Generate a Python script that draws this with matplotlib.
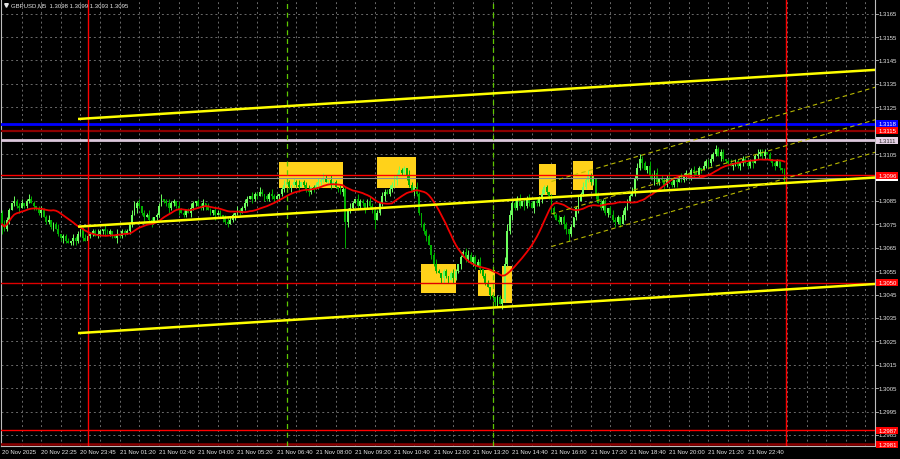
import numpy as np
import pandas as pd
import matplotlib
matplotlib.use("Agg")
import matplotlib.pyplot as plt
from matplotlib.patches import Rectangle
from matplotlib.transforms import blended_transform_factory

# ---------------------------------------------------------------- data
PIP = 0.0001
BASE = 1.3000

# GBPUSD M5 closing prices, pips above 1.3000, one value per bar
closes_pips = [
    75, 73, 77, 81, 84, 85, 83, 82, 84, 83, 85, 86, 84, 83, 82, 80, 81,
    78, 76, 77, 74, 75, 73, 71, 69, 70, 68, 67, 68, 69, 68, 71, 73, 69, 68, 70,
    71, 72, 70, 71, 72, 73, 72, 71, 72, 70, 69, 71, 70, 72, 71, 72,
    75, 79, 82, 84, 83, 80, 78, 79, 77, 76, 78, 79,
    83, 86, 85, 84, 82, 84, 85, 83, 81, 80, 79, 81, 80, 82,
    84, 85, 83, 82, 84, 83, 81, 80, 81, 79, 80, 79,
    78, 76, 75, 77, 79, 80, 81, 80, 82,
    84, 86, 87, 86, 88, 87, 89, 88, 87, 86, 88, 87, 86, 87, 88,
    90, 92, 93, 91, 92, 93, 92, 91, 93, 92, 90, 89, 91, 90, 92,
    93, 94, 95, 93, 94, 92, 93, 91, 90, 89, 90, 76, 81,
    82, 84, 86, 83, 85, 84, 82, 85, 83, 81, 77, 80,
    84, 87, 89, 88, 90, 92, 94, 96, 98, 97, 99, 96, 92, 89, 91, 88,
    80, 75, 72, 70, 66, 62, 58, 55, 54, 52, 55, 53, 51, 54, 52, 55,
    58, 61, 63, 60, 62, 59, 61, 57, 59, 56, 53, 50, 48, 45, 44,
    42, 44, 41, 43, 58, 72, 79, 84, 82, 86, 83,
    85, 83, 86, 84, 82, 85, 84, 86, 88, 91, 89, 87,
    82, 79, 77, 76, 78, 75, 73, 71, 74, 78, 82, 85, 88,
    91, 94, 96, 93, 95, 88, 84, 82, 85, 80, 82, 79, 77, 76, 78, 75, 79,
    82, 85, 87, 89, 95, 99, 103, 101, 98, 100,
    96, 94, 97, 93, 95, 94, 92, 95, 93, 92, 94, 93, 95, 94, 96,
    97, 95, 98, 97, 96, 99, 98, 100, 102, 101, 103,
    105, 107, 104, 106, 103, 102, 101,
    100, 101, 102, 100, 101, 103, 101, 100, 102, 101,
    104, 105, 106, 104, 106, 105, 103, 101, 100, 102, 99, 98, 95,
]
first_open_pips = 80

# wick lengths in pips above / below each candle body (hex digits)
upper_wicks = (
    "1211021120" "1211012112" "0112011102" "1101210112" "1021101201"
    "1102312011" "2101120121" "1021101210" "1120110211" "0121102112"
    "1021121011" "2110121102" "1201120112" "1210211021" "1121021101"
    "2111021121" "2121102112" "1011101210" "1101210112" "2101120110"
    "1011033212" "1201121011" "2110111201" "1010121212" "1101211012"
    "1102111212" "2110211201" "1121011211" "0121102112" "1211101201"
    "1011210121" "1101011001"
)
lower_wicks = (
    "4112011201" "1102112011" "1201121012" "2111021101" "1120110211"
    "1011021120" "1201101121" "1120110211" "0112011201" "2110121101"
    "1021101211" "1102110121" "1201121102" "1101210112" "b211021120"
    "1140112011" "1201121021" "1112021102" "2110211201" "1121021102"
    "1220211121" "1102110211" "2011210112" "2310120111" "1120111201"
    "2110211021" "1201102111" "2101120112" "1120110121" "1102111021"
    "1210112011" "1101120112"
)

# axis time labels, one every 16 bars
time_labels = [
    "20 Nov 2025", "20 Nov 22:25", "20 Nov 23:45", "21 Nov 01:20",
    "21 Nov 02:40", "21 Nov 04:00", "21 Nov 05:20", "21 Nov 06:40",
    "21 Nov 08:00", "21 Nov 09:20", "21 Nov 10:40", "21 Nov 12:00",
    "21 Nov 13:20", "21 Nov 14:40", "21 Nov 16:00", "21 Nov 17:20",
    "21 Nov 18:40", "21 Nov 20:00", "21 Nov 21:20", "21 Nov 22:40",
]
price_ticks = [1.2985 + 0.0010 * k for k in range(19)]

# day separators and session markers (bar positions)
day_breaks = [35, 319.6]
session_marks = [116, 200]

# horizontal levels
level_prices = [1.3118, 1.3115, 1.3111, 1.3096, 1.3050, 1.2987, 1.2981]
bid_price = 1.3095

# signal zones: bar from, bar to, price low, price high
zone_bar0 = [112.9, 152.7, 170.8, 193.9, 203.8, 218.9, 232.9]
zone_bar1 = [139.0, 168.8, 185.0, 201.0, 207.9, 225.8, 240.8]
zone_low = [1.30904, 1.30904, 1.30455, 1.30445, 1.30414, 1.30876, 1.30897]
zone_high = [1.31015, 1.31036, 1.30579, 1.30555, 1.30570, 1.31007, 1.31022]

# rising channel (solid) and short-term channel (dashed): anchor bars and prices
trend_bars = [31, 356]
trend_start = [1.31200, 1.30740, 1.30285]
trend_end = [1.31410, 1.30950, 1.30495]
inner_bars = [224, 356]
inner_start = [1.30933, 1.30794, 1.30655]
inner_end = [1.31336, 1.31197, 1.31058]

# ---------------------------------------------------------------- styles
BG = "#000000"
GRID = "#6a6a6a"
TXT = "#e6e6e6"
BULL = "#6dff5e"
BEAR = "#00b000"
ZONE = "#ffd21a"
level_colors = ["#0000ff", "#8b0000", "#dcc8dc", "#ff0000", "#e00000", "#ff0000", "#8b0000"]
level_widths = [2.0, 1.6, 2.0, 1.0, 1.0, 1.0, 1.8]
box_colors = ["#0000ff", "#ff0000", "#e6d2e6", "#ff0000", "#ff0000", "#ff0000", "#ff0000"]
box_text = ["white", "white", "#303030", "white", "white", "white", "white"]
FONT = "Liberation Sans"
FS = 4.3

# ---------------------------------------------------------------- build OHLC
c = BASE + np.array(closes_pips, dtype=float) * PIP
n = len(c)
o = np.r_[BASE + first_open_pips * PIP, c[:-1]]
uw = np.array([int(ch, 16) for ch in upper_wicks], dtype=float)[:n] * PIP
lw_ = np.array([int(ch, 16) for ch in lower_wicks], dtype=float)[:n] * PIP
hi = np.maximum(o, c) + uw
lo = np.minimum(o, c) - lw_
ma = pd.Series(c).rolling(20, min_periods=1).mean().to_numpy()
idx = np.arange(n)

# ---------------------------------------------------------------- figure
fig = plt.figure(figsize=(9, 4.6), dpi=100, facecolor=BG)
ax = fig.add_axes([1 / 900, 13 / 460, 874 / 900, 447 / 460], facecolor=BG)
ax.set_xlim(-0.4, 355.9)
ax.set_ylim(1.298026, 1.317128)
ax.set_xticks([])
ax.set_yticks([])
for side in ("left", "right", "bottom"):
    ax.spines[side].set_color("#bdbdbd")
    ax.spines[side].set_linewidth(0.8)
ax.spines["top"].set_visible(False)

# dotted grid
for b in range(8, 356, 8):
    ax.axvline(b, color=GRID, lw=0.7, ls=(0, (2, 3)), zorder=1)
for p in price_ticks:
    ax.axhline(p, color=GRID, lw=0.7, ls=(0, (2, 3)), zorder=1)

# signal zones
for x0, x1, y0, y1 in zip(zone_bar0, zone_bar1, zone_low, zone_high):
    ax.add_patch(Rectangle((x0, y0), x1 - x0, y1 - y0, facecolor=ZONE,
                           edgecolor="none", zorder=2))

# candles
bull = c >= o
cols = np.where(bull, BULL, BEAR)
ax.vlines(idx, lo, hi, colors=cols, lw=0.7, zorder=4)
body_b = np.minimum(o, c)
body_h = np.maximum(np.abs(c - o), 0.00005)
ax.bar(idx, body_h, bottom=body_b, width=0.75, color=cols, linewidth=0, zorder=4)

# moving average
ax.plot(idx, ma, color="#f00000", lw=1.3, zorder=5)

# horizontal levels and bid line
ax.axhline(bid_price, color="#8c8c8c", lw=0.8, zorder=5)
for p, col, w in zip(level_prices, level_colors, level_widths):
    ax.axhline(p, color=col, lw=w, zorder=6)

# vertical markers
for b in day_breaks:
    ax.axvline(b, color="#ff0000", lw=1.0, zorder=6)
for b in session_marks:
    ax.axvline(b, color="#5fc800", lw=0.9, ls=(0, (4, 3)), zorder=6)

# channels
for s, e in zip(trend_start, trend_end):
    ax.plot(trend_bars, [s, e], color="#ffff00", lw=1.8, zorder=7,
            solid_capstyle="butt")
for s, e in zip(inner_start, inner_end):
    ax.plot(inner_bars, [s, e], color="#b8b800", lw=0.8, ls=(0, (4, 3)), zorder=7)

# price scale (labels hidden under a level box are skipped)
tr = blended_transform_factory(ax.transAxes, ax.transData)
covered = level_prices + [bid_price]
for p in price_ticks:
    ax.plot([1.0, 1.0035], [p, p], color="#bdbdbd", lw=0.6, transform=tr,
            clip_on=False)
    if min(abs(p - q) for q in covered) < 0.00015:
        continue
    ax.text(1.0046, p, f"{p:.4f}", transform=tr, color=TXT, fontsize=FS,
            family=FONT, va="center", ha="left", clip_on=False)

box_h = 0.00030


def price_box(p, face, tcol, z, label=True):
    ax.add_patch(Rectangle((1.0011, p - box_h / 2), 0.0252, box_h,
                           transform=tr, facecolor=face, edgecolor="none",
                           clip_on=False, zorder=z))
    if label:
        ax.text(1.0046, p, f"{p:.4f}", transform=tr, color=tcol, fontsize=FS,
                family=FONT, va="center", ha="left", clip_on=False,
                zorder=z + 0.1)


# bid box sits mostly behind the 1.3096 box
price_box(bid_price, "#ffffff", "#000000", 20, label=False)
for p, face, tcol in zip(level_prices, box_colors, box_text):
    price_box(p, face, tcol, 21)

# time scale
trx = blended_transform_factory(ax.transData, ax.transAxes)
for k, lab in enumerate(time_labels):
    ax.text(16 * k, -0.0134, lab, transform=trx, color=TXT, fontsize=FS,
            family=FONT, va="center", ha="left", clip_on=False)

# symbol header
ax.plot([0.0052], [0.9866], marker="v", ms=2.6, color=TXT, transform=ax.transAxes,
        clip_on=False, zorder=30)
ax.text(0.0114, 0.9866,
        "GBPUSD,M5  1.3098 1.3099 1.3093 1.3095",
        transform=ax.transAxes, color=TXT, fontsize=FS, family=FONT,
        va="center", ha="left", zorder=30)

fig.savefig("out.png", dpi=100, facecolor=BG)
